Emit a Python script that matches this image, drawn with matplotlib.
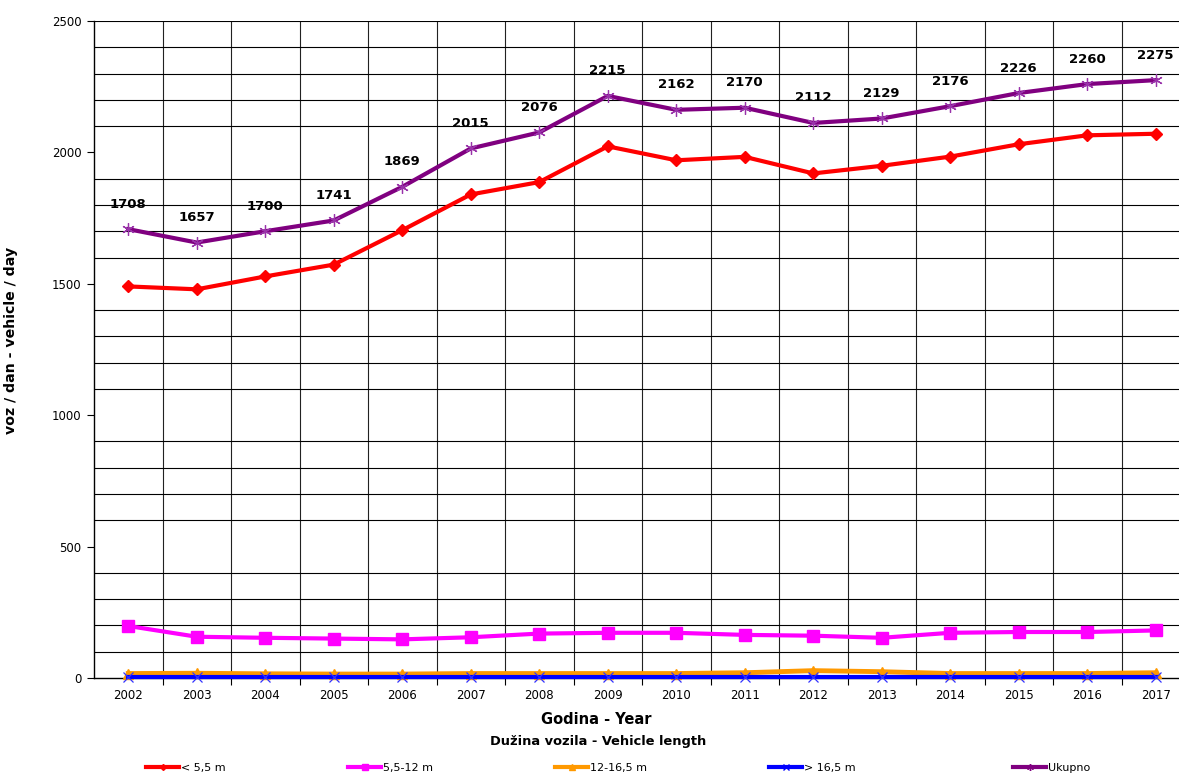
import matplotlib
matplotlib.use("Agg")
import matplotlib.pyplot as plt
from matplotlib.lines import Line2D
import numpy as np

years = ["2002", "2003", "2004", "2005", "2006", "2007", "2008", "2009",
         "2010", "2011", "2012", "2013", "2014", "2015", "2016", "2017"]
lt_5_5 = [1490, 1479, 1528, 1573, 1704, 1840, 1887, 2023, 1970, 1983, 1920, 1949, 1984, 2031, 2065, 2071]
m5_12 = [198, 157, 153, 150, 147, 155, 169, 172, 172, 164, 161, 153, 172, 175, 175, 181]
m12_16 = [17, 18, 16, 15, 15, 17, 17, 17, 17, 20, 28, 24, 17, 17, 17, 20]
gt_16_5 = [3, 3, 3, 3, 3, 3, 3, 3, 3, 3, 3, 3, 3, 3, 3, 3]
ukupno = [1708, 1657, 1700, 1741, 1869, 2015, 2076, 2215, 2162, 2170, 2112, 2129, 2176, 2226, 2260, 2275]

series_names = ["< 5,5 m", "5,5-12 m", "12-16,5 m", "> 16,5 m", "Ukupno"]
y_ticks = [0, 500, 1000, 1500, 2000, 2500]

plt.rcParams['font.family'] = ['DejaVu Sans']

W, H = 1179, 774
fig = plt.figure(figsize=(W / 100, H / 100), dpi=100)
ax = fig.add_axes([94 / W, (H - 678) / H, 1096 / W, 657 / H])

x = np.arange(len(years))

styles = [
    dict(color="#FF0000", marker="D", ms=6, mfc="#FF0000", mec="#FF0000", lw=3.0),
    dict(color="#FF00FF", marker="s", ms=8, mfc="#FF00FF", mec="#FF00FF", lw=3.0),
    dict(color="#FF9900", marker="^", ms=7, mfc="#FF9900", mec="#FF9900", lw=3.5),
    dict(color="#0000FF", marker="x", ms=7, mfc="none", mec="#3333FF", mew=0.9, lw=3.0),
    dict(color="#800080", marker=(6, 2, 0), ms=9, mec="#9933AA", mew=0.9, lw=3.0),
]
data = [lt_5_5, m5_12, m12_16, gt_16_5, ukupno]
lines = []
for d, st, nm in zip(data, styles, series_names):
    ln, = ax.plot(x, d, label=nm, zorder=3, clip_on=False, **st)
    lines.append(ln)

for xi, v in zip(x, ukupno):
    ax.annotate(str(v), (xi, v), xytext=(0, 18), textcoords="offset points",
                ha="center", va="center", fontsize=9.5, fontweight="bold", zorder=4)

ax.set_xlim(-0.5, len(years) - 0.5)
ax.set_ylim(0, 2500)
ax.set_yticks(y_ticks)
ax.set_yticklabels([str(t) for t in y_ticks], fontsize=8.5)
ax.set_yticks(np.arange(0, 2501, 100), minor=True)
ax.set_xticks(x)
ax.set_xticklabels(years, fontsize=8.5)
ax.set_xticks(np.arange(0.5, len(years) - 0.5, 1.0), minor=True)

ax.tick_params(axis="x", which="major", length=0, pad=8)
ax.tick_params(axis="x", which="minor", length=5, width=0.8, direction="out")
ax.tick_params(axis="y", which="major", length=5, width=0.8, direction="out", pad=4)
ax.tick_params(axis="y", which="minor", length=0)

ax.grid(True, which="minor", axis="y", color="black", lw=0.8)
ax.grid(True, which="minor", axis="x", color="#222222", lw=0.8)
ax.grid(False, which="major")
ax.axhline(2500, color="black", lw=0.8)
for s in ["top", "right"]:
    ax.spines[s].set_visible(False)
ax.spines["left"].set_linewidth(1.0)
ax.spines["bottom"].set_linewidth(1.0)

ax.set_ylabel("voz / dan - vehicle / day", fontsize=10.2, fontweight="bold")
ax.yaxis.set_label_coords(-0.069, 0.514)

fig.text(596 / W, 1 - 720 / H, "Godina - Year", ha="center", va="center",
         fontsize=10.5, fontweight="bold")
fig.text(598 / W, 1 - 741 / H, "Dužina vozila - Vehicle length", ha="center",
         va="center", fontsize=9.4, fontweight="bold")

legend_x = [146, 348, 555, 769, 1013]
leg_markers = ["D", "s", "^", "x", (6, 2, 0)]
leg_ms = [3, 4, 4, 4, 5]
for ln, lx, mk, ms in zip(lines, legend_x, leg_markers, leg_ms):
    h = Line2D([0], [0], color=ln.get_color(), lw=3.0, marker=mk, ms=ms,
               mfc=ln.get_color(), mec=ln.get_color())
    fig.legend([h], [ln.get_label()], loc="center left",
               bbox_to_anchor=(lx / W, 1 - 768 / H), frameon=False,
               fontsize=8, borderpad=0, borderaxespad=0,
               handlelength=3.0, handletextpad=0.15)

fig.savefig("out.png", dpi=100)
